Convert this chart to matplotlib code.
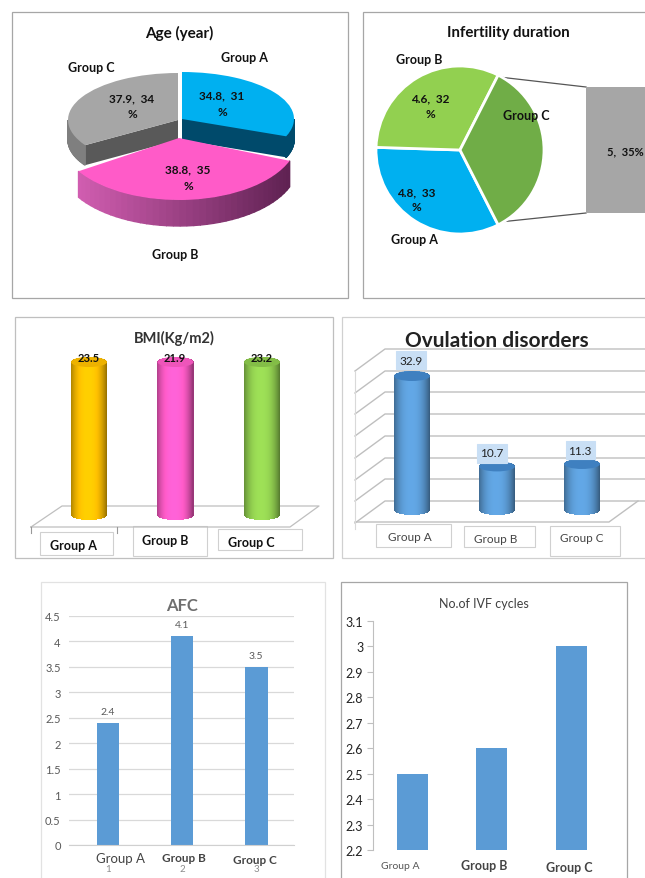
import numpy as np
import matplotlib
matplotlib.use('Agg')
import matplotlib.pyplot as plt
from matplotlib.patches import Rectangle, Ellipse
from matplotlib.colors import to_rgb

W, H = 645, 879

groups = ['Group A', 'Group B', 'Group C']

age_values = [34.8, 38.8, 37.9]
age_pct = [31, 35, 34]
infert_values = [4.8, 4.6, 5]
infert_pct = [33, 32, 35]
bmi_values = [23.5, 21.9, 23.2]
bmi_drawn = [23.5, 23.5, 23.5]   # in the picture all three bars stand equally tall
ovu_values = [32.9, 10.7, 11.3]
afc_values = [2.4, 4.1, 3.5]
afc_ticks = [0, 0.5, 1, 1.5, 2, 2.5, 3, 3.5, 4, 4.5]
afc_ticklabels = ['0', '0.5', '1', '1.5', '2', '2.5', '3', '3.5', '4', '4.5']
ivf_values = [2.5, 2.6, 3.0]
ivf_ticks = [2.2, 2.3, 2.4, 2.5, 2.6, 2.7, 2.8, 2.9, 3.0, 3.1]
ivf_ticklabels = ['2.2', '2.3', '2.4', '2.5', '2.6', '2.7', '2.8', '2.9', '3', '3.1']

plt.rcParams['font.family'] = ['Lato', 'DejaVu Sans']

fig = plt.figure(figsize=(W / 100, H / 100), dpi=100)


def px_axes(left, top, right, bottom, z=1):
    ax = fig.add_axes([left / W, 1 - bottom / H, (right - left) / W, (bottom - top) / H], zorder=z)
    ax.patch.set_alpha(0)
    return ax


# page layer for frames and floors, text layer on top, both in pixels
bg = px_axes(0, 0, W, H, 0)
bg.set_xlim(0, W)
bg.set_ylim(H, 0)
bg.axis('off')
tx = px_axes(0, 0, W, H, 5)
tx.set_xlim(0, W)
tx.set_ylim(H, 0)
tx.axis('off')


def frame(x0, y0, x1, y1, color):
    bg.add_patch(Rectangle((x0, y0), x1 - x0, y1 - y0, fc='white', ec=color, lw=0.9))


def T(x, y, s, size=9, bold=False, color='#111111', ax=tx, **kw):
    ax.text(x, y, s, fontsize=size, fontweight='bold' if bold else 'normal', color=color,
            ha='center', va='center', **kw)


def box(x0, y0, x1, y1, ec='#D0D0D0', fc='white', layer=None):
    (layer or bg).add_patch(Rectangle((x0, y0), x1 - x0, y1 - y0, fc=fc, ec=ec, lw=0.8))


def shade(c, f):
    return tuple(min(1, v * f) for v in to_rgb(c))


def pt(t, r=1.0):
    return np.cos(np.radians(t)) * r, np.sin(np.radians(t)) * r


def pie_slice(values, which, color, cx, cy, a, b, wall=None, inner=None, depth=0, ramp=None):
    # one slice of the tilted pie, drawn squashed, with its wall below it
    ax = px_axes(11, 13, 348, 299)
    d = depth / b
    if inner is not None:
        for t in inner[1]:
            x, y = pt(t)
            ax.fill([0, x, x, 0], [0, y, y - d, -d], color=inner[0], lw=0)
    if wall is not None:
        w1, w2 = wall[1]
        ts = np.linspace(w1, w2, 40)
        for i in range(len(ts) - 1):
            x0, y0 = pt(ts[i])
            x1, y1 = pt(ts[i + 1])
            if ramp:
                f = (x0 + 1) / 2
                c = tuple(p + (q - p) * f for p, q in zip(to_rgb(ramp[0]), to_rgb(ramp[1])))
            else:
                c = wall[0]
            ax.fill([x0, x1, x1, x0], [y0, y1, y1 - d, y0 - d], color=c, lw=1.0, ec=c)
    wedges, _ = ax.pie(values, startangle=90, counterclock=False, colors=[color] * 3,
                       wedgeprops={'lw': 0})
    for i, wd in enumerate(wedges):
        wd.set_visible(i == which)
    ax.set_aspect('auto')
    ax.set_xlim((11 - cx) / a, (348 - cx) / a)
    ax.set_ylim((cy - 299) / b, (cy - 13) / b)
    ax.axis('off')


def cylinder(ax, pos, val, width, color, cap, cap_color):
    n = 36
    offs = np.linspace(-1, 1, n + 1)
    mids = (offs[:-1] + offs[1:]) / 2
    for o in mids:
        e = cap * np.sqrt(1 - o * o)
        f = 1.08 - 0.45 * abs(o + 0.05) ** 2.4
        ax.bar(pos + o * width / 2, val + e + e, width / n * 1.3, bottom=-e,
               color=shade(color, f), lw=0)
    ax.add_patch(Ellipse((pos, val), width, 2 * cap, angle=0, fc=cap_color, ec='none', zorder=3))


# ---- Age (year)
frame(11.5, 13, 348, 299, '#A6A6A6')
pie_slice(age_pct, 0, '#00B0F0', 182, 120, 112, 47, wall=('#004A6B', (-22, 0)),
          inner=('#004A6B', [0, -21.6]), depth=21)
pie_slice(age_pct, 2, '#A6A6A6', 178, 121, 110, 47, wall=('#7F7F7F', (180, 212.4)),
          inner=('#595959', [212.4]), depth=20)
pie_slice(age_pct, 1, '#FF5BC8', 179, 139, 119, 62, wall=('#000000', (-147.6, -21.6)),
          depth=26, ramp=('#DA62B8', '#5A1F4E'))
T(179, 33, 'Age (year)', 11, True)
T(244, 58, groups[0], 9, True)
T(175, 255, groups[1], 9, True)
T(91, 68, groups[2], 9, True)
T(222, 96, f'{age_values[0]},  {age_pct[0]}', 8.5, True)
T(222, 112, '%', 8.5, True)
T(188, 170, f'{age_values[1]},  {age_pct[1]}', 8.5, True)
T(188, 186, '%', 8.5, True)
T(132, 99, f'{age_values[2]},  {age_pct[2]}', 8.5, True)
T(132, 115, '%', 8.5, True)

# ---- Infertility duration
frame(363, 13, 660, 299, '#A6A6A6')
ax = px_axes(363, 13, 645, 299)
ax.pie(infert_pct, startangle=-63, counterclock=False,
       colors=['#00B0F0', '#92D050', '#70AD47'],
       wedgeprops={'lw': 2, 'ec': 'white'})
ax.set_aspect('auto')
ax.set_xlim((363 - 460) / 84, (645 - 460) / 84)
ax.set_ylim((151 - 299) / 84, (151 - 13) / 84)
ax.axis('off')
bg.plot([499, 586], [78, 88], color='#555555', lw=0.9, zorder=3)
bg.plot([500, 586], [223, 214], color='#555555', lw=0.9, zorder=3)
ax = px_axes(586, 88, 645, 214)
ax.bar([0], [infert_pct[2]], width=1, color='#A6A6A6')
ax.set_xlim(-0.5, 0.5)
ax.set_ylim(0, infert_pct[2])
ax.axis('off')
T(508, 33, 'Infertility duration', 10.8, True)
T(414, 240, groups[0], 9, True)
T(419, 60, groups[1], 9, True)
T(526, 116, groups[2], 9, True)
T(416, 193, f'{infert_values[0]},  {infert_pct[0]}', 8.5, True)
T(416, 208, '%', 8.5, True)
T(430, 99, f'{infert_values[1]},  {infert_pct[1]}', 8.5, True)
T(430, 115, '%', 8.5, True)
T(625, 152, f'{infert_values[2]},  {infert_pct[2]}%', 8, True)

# ---- BMI
frame(15, 318, 333, 559, '#BFBFBF')
bg.plot([31, 62, 319, 290, 31], [528, 507, 507, 528, 528], color='#BFBFBF', lw=0.9)
bg.plot([31, 31], [528, 534], color='#999999', lw=0.8)
bg.plot([117, 117], [528, 534], color='#999999', lw=0.8)
box(40, 533, 113, 556)
box(133, 527, 207, 557)
box(218, 530, 302, 551)
ax = px_axes(30, 340, 330, 530)
u = bmi_drawn[0] / 153
for i, (v, c, cc) in enumerate(zip(bmi_drawn, ['#FFC000', '#FF5BC8', '#92D050'],
                                   ['#EDB200', '#EE55BA', '#83BD47'])):
    cylinder(ax, i, v, 36 / 86.5, c, 5 * u, cc)
ax.set_xlim((30 - 89) / 86.5, (330 - 89) / 86.5)
ax.set_ylim(-(530 - 516) * u, (516 - 340) * u)
ax.axis('off')
T(174, 338, 'BMI(Kg/m2)', 10.5, True, '#333333')
for x, v in zip([89, 175, 262], bmi_values):
    T(x, 359, f'{v}', 8, True)
T(73, 546, groups[0], 9, True)
T(165, 541, groups[1], 9, True)
T(251, 543, groups[2], 9, True)

# ---- Ovulation disorders
frame(342, 318, 660, 559, '#D0D0D0')
for y in [350, 372, 393, 415, 437, 459, 480, 502]:
    bg.plot([355, 385, 645], [y + 22, y, y], color='#BFBFBF', lw=1.0)
bg.plot([355, 609, 638], [523, 523, 502], color='#BFBFBF', lw=1.0)
bg.plot([355, 355], [372, 530], color='#D9D9D9', lw=0.8)
box(376, 525, 451, 548)
box(464, 527, 535, 548)
box(550, 527, 620, 557)
ax = px_axes(360, 345, 640, 530)
u = ovu_values[0] / 134
for i, v in enumerate(ovu_values):
    cylinder(ax, i, v, 36 / 85, '#5B9BD5', 5 * u, '#3F80C0')
ax.set_xlim((360 - 412) / 85, (640 - 412) / 85)
ax.set_ylim(-(530 - 511) * u, (511 - 345) * u)
ax.axis('off')
box(396, 352, 426, 370, ec='#C9DFF5', fc='#C9DFF5', layer=tx)
box(477, 445, 507, 464, ec='#C9DFF5', fc='#C9DFF5', layer=tx)
box(566, 442, 595, 460, ec='#C9DFF5', fc='#C9DFF5', layer=tx)
T(411, 362, f'{ovu_values[0]}', 8.5, False, '#222222')
T(492, 454, f'{ovu_values[1]}', 8.5, False, '#222222')
T(580, 452, f'{ovu_values[2]}', 8.5, False, '#222222')
T(497, 341, 'Ovulation disorders', 15, True, '#222222')
T(410, 538, groups[0], 8.5, False, '#444444')
T(496, 540, groups[1], 8.5, False, '#444444')
T(582, 539, groups[2], 8.5, False, '#444444')

# ---- AFC
frame(41, 583, 325, 900, '#E2E2E2')
ax = px_axes(69, 617, 294, 846)
bars = ax.bar([1, 2, 3], afc_values, 23 / 74, color='#5B9BD5', zorder=2)
ax.bar_label(bars, labels=[str(v) for v in afc_values], padding=5, fontsize=7.5, color='#595959')
ax.set_xlim(1 - 39 / 74, 1 + 186 / 74)
ax.set_ylim(0, 4.5)
ax.set_yticks(afc_ticks, afc_ticklabels, fontsize=8, color='#595959')
ax.set_xticks([1, 2, 3], ['1', '2', '3'], fontsize=7, color='#8C8C8C')
ax.tick_params(length=0)
ax.tick_params(axis='x', pad=14)
ax.tick_params(axis='y', pad=6)
ax.grid(axis='y', color='#D9D9D9', lw=0.9, zorder=0)
ax.set_axisbelow(True)
for s in ['top', 'right', 'left']:
    ax.spines[s].set_visible(False)
ax.spines['bottom'].set_color('#D0D0D0')
T(182.5, 606, 'AFC', 12, True, '#6E6E6E')
T(121, 859, groups[0], 9.5, False, '#444444')
T(184, 859, groups[1], 8.5, True, '#444444')
T(255, 861, groups[2], 8.5, True, '#444444')

# ---- No.of IVF cycles
frame(340.5, 583, 626.5, 900, '#A6A6A6')
ax = px_axes(373, 622, 620, 851)
ax.bar([1, 2, 3], ivf_values, 31 / 79.5, color='#5B9BD5')
ax.set_xlim(1 - 39 / 79.5, 1 + 208 / 79.5)
ax.set_ylim(2.2, 3.1)
ax.set_yticks(ivf_ticks, ivf_ticklabels, fontsize=9, color='#222222')
ax.set_xticks([])
ax.tick_params(axis='y', length=4, width=0.8, color='#BFBFBF', pad=3)
for s in ['top', 'right', 'bottom']:
    ax.spines[s].set_visible(False)
ax.spines['left'].set_color('#BFBFBF')
T(484, 604, 'No.of IVF cycles', 9, False, '#404040')
T(400, 867, groups[0], 7.5, False, '#555555')
T(484.5, 866, groups[1], 9, True, '#444444')
T(569, 868, groups[2], 9, True, '#444444')

fig.savefig('out.png', dpi=100)
